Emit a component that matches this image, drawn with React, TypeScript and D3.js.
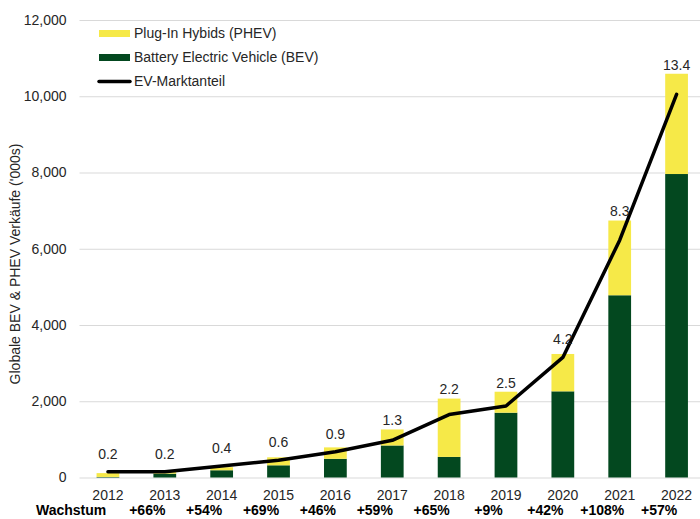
import { useRef, useEffect } from "react";
import * as d3 from "d3";

const years = ["2012", "2013", "2014", "2015", "2016", "2017", "2018", "2019", "2020", "2021", "2022"];
const bev = [15, 100, 190, 320, 490, 840, 540, 1700, 2260, 4780, 7960];
const phev = [100, 90, 80, 210, 300, 420, 1530, 550, 980, 1960, 2630];
const share = [0.2, 0.2, 0.4, 0.6, 0.9, 1.3, 2.2, 2.5, 4.2, 8.3, 13.4];
const growth = ["+66%", "+54%", "+69%", "+46%", "+59%", "+65%", "+9%", "+42%", "+108%", "+57%"];
const yTicks = [0, 2000, 4000, 6000, 8000, 10000, 12000];

const legendItems = [
  { label: "Plug-In Hybids (PHEV)", kind: "phev" },
  { label: "Battery Electric Vehicle (BEV)", kind: "bev" },
  { label: "EV-Marktanteil", kind: "line" },
];

export default function App() {
  const ref = useRef<SVGSVGElement>(null);

  function init() {
    const settings = {
      width: 700,
      height: 519,
      margin: { top: 20, right: -5, bottom: 41.5, left: 79.5 },
    };
    const colors = { phev: "#f6e948", bev: "#03481f", text: "#262626", grid: "#d9d9d9" };
    const font = "'Liberation Sans', Arial, sans-serif";

    const svg = d3.select(ref.current);
    svg.selectAll("*").remove();
    svg.attr("font-family", font).attr("font-size", 14);

    const x = d3
      .scaleBand()
      .domain(years)
      .range([settings.margin.left, settings.width - settings.margin.right])
      .paddingInner(0.6)
      .paddingOuter(0.3);

    const y = d3
      .scaleLinear()
      .domain([0, 12000])
      .range([settings.height - settings.margin.bottom, settings.margin.top]);

    // market share sits on a hidden 0-16 % axis
    const yShare = d3.scaleLinear().domain([0, 16]).range(y.range());

    const yAxis = (g) =>
      g
        .attr("transform", `translate(${settings.margin.left},0)`)
        .call(
          d3
            .axisLeft(y)
            .tickValues(yTicks)
            .tickFormat(d3.format(","))
            .tickSize(-(settings.width - settings.margin.left))
            .tickPadding(13)
        )
        .call((g) => g.select(".domain").remove())
        .call((g) => g.selectAll(".tick line").attr("stroke", colors.grid).attr("stroke-width", 1))
        .call((g) =>
          g.selectAll(".tick text").attr("fill", colors.text).attr("font-size", 14).attr("font-family", font)
        );
    svg.append("g").call(yAxis);

    const data = years.map((yr, i) => ({ yr, bev: bev[i], phev: phev[i], share: share[i] }));
    const stack = d3.stack().keys(["bev", "phev"])(data);

    svg
      .append("g")
      .selectAll("g")
      .data(stack)
      .join("g")
      .attr("fill", (s) => colors[s.key])
      .selectAll("rect")
      .data((s) => s)
      .join("rect")
      .attr("x", (d) => x(d.data.yr))
      .attr("width", x.bandwidth())
      .attr("y", (d) => y(d[1]))
      .attr("height", (d) => y(d[0]) - y(d[1]));

    const line = d3
      .line()
      .x((d) => x(d.yr) + x.bandwidth() / 2)
      .y((d) => yShare(d.share));

    svg
      .append("path")
      .datum(data)
      .attr("d", line)
      .attr("fill", "none")
      .attr("stroke", "#000")
      .attr("stroke-width", 3.5)
      .attr("stroke-linejoin", "round")
      .attr("stroke-linecap", "round");

    // share labels
    svg
      .append("g")
      .selectAll("text")
      .data(data)
      .join("text")
      .attr("x", (d) => x(d.yr) + x.bandwidth() / 2)
      .attr("y", (d) => Math.min(yShare(d.share) - 18, y(d.bev + d.phev) - 9))
      .attr("dy", "0.35em")
      .attr("text-anchor", "middle")
      .attr("fill", colors.text)
      .text((d) => d.share.toFixed(1));

    // year labels
    svg
      .append("g")
      .selectAll("text")
      .data(years)
      .join("text")
      .attr("x", (d) => x(d) + x.bandwidth() / 2)
      .attr("y", 500)
      .attr("text-anchor", "middle")
      .attr("fill", colors.text)
      .text((d) => d);

    // growth row
    const gr = svg.append("g").attr("font-weight", "bold").attr("fill", "#000");
    gr.append("text").attr("x", 36).attr("y", 515).text("Wachstum");
    gr.selectAll("text.g")
      .data(growth)
      .join("text")
      .attr("class", "g")
      .attr("x", (d, i) => x(years[i + 1]) + x.bandwidth() / 2 - 17.5)
      .attr("y", 515)
      .attr("text-anchor", "middle")
      .text((d) => d);

    // y title
    svg
      .append("text")
      .attr("transform", `translate(20,${264}) rotate(-90)`)
      .attr("text-anchor", "middle")
      .attr("fill", colors.text)
      .text("Globale BEV & PHEV Verkäufe ('000s)");

    // legend
    const lg = svg
      .append("g")
      .selectAll("g")
      .data(legendItems)
      .join("g")
      .attr("transform", (d, i) => `translate(99,${33.5 + i * 24})`);
    lg.filter((d) => d.kind !== "line")
      .append("rect")
      .attr("x", 0)
      .attr("y", -3.5)
      .attr("width", 31)
      .attr("height", 7)
      .attr("fill", (d) => colors[d.kind]);
    lg.filter((d) => d.kind === "line")
      .append("line")
      .attr("x1", 0)
      .attr("x2", 31)
      .attr("stroke", "#000")
      .attr("stroke-width", 3.5)
      .attr("stroke-linecap", "round");
    lg.append("text")
      .attr("x", 35)
      .attr("dy", "0.35em")
      .attr("fill", colors.text)
      .text((d) => d.label);
  }

  useEffect(init, []);
  return (
    <svg
      ref={ref}
      width={700}
      height={519}
      style={{ position: "absolute", left: 0, top: 0, display: "block", background: "#fff" }}
    ></svg>
  );
}
